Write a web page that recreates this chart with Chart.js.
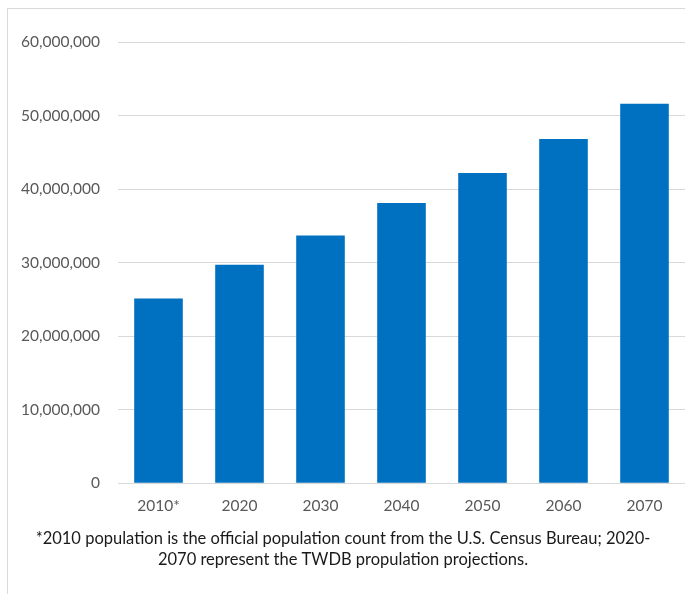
<!DOCTYPE html>
<html>
<head>
<meta charset="utf-8">
<script src="https://cdn.jsdelivr.net/npm/chart.js@4"></script>
<style>
  html, body { margin: 0; padding: 0; background: #fff; }
  #wrap { position: relative; width: 685px; height: 594px; overflow: hidden; }
  #frame { position: absolute; left: 7px; top: 8px; width: 700px; height: 620px;
           border-left: 1px solid #d9d9d9; border-top: 1px solid #d9d9d9; }
  canvas { position: absolute; left: 0; top: 0; }
</style>
</head>
<body>
<div id="wrap">
  <div id="frame"></div>
  <canvas id="popChart" width="685" height="594"></canvas>
</div>
<script>
// categories and values
var years = ['2010*', '2020', '2030', '2040', '2050', '2060', '2070'];
var population = [25100000, 29700000, 33700000, 38100000, 42200000, 46800000, 51600000];
var footnote = [
    '*2010 population is the official population count from the U.S. Census Bureau; 2020-',
    '2070 represent the TWDB propulation projections.'
];

var tickFont = { family: 'Lato, "Open Sans", sans-serif', size: 15.5 };

var ctx = document.getElementById('popChart').getContext('2d');
var config = {
    type: 'bar',
    data: {
        labels: years,
        datasets: [{
            label: 'Population',
            data: population,
            backgroundColor: '#0070c0',
            borderWidth: 0,
            barPercentage: 0.6,
            categoryPercentage: 1.0
        }]
    },
    options: {
        responsive: false,
        animation: false,
        layout: { padding: { left: 0, right: -1, top: 42, bottom: 24 } },
        plugins: {
            legend: { display: false },
            tooltip: { enabled: false },
            title: {
                display: true,
                position: 'bottom',
                text: footnote,
                color: '#1a1a1a',
                font: { family: 'Lato, "Open Sans", sans-serif', size: 16.5, weight: 'normal', lineHeight: 1.28 },
                padding: { top: 6, bottom: 0 }
            }
        },
        scales: {
            x: {
                grid: { display: false },
                border: { display: true, color: '#d9d9d9', width: 1 },
                ticks: { color: '#595959', font: tickFont, padding: 6, maxRotation: 0 }
            },
            y: {
                min: 0,
                max: 60000000,
                afterFit: function(scale) { scale.width = 118; },
                grid: { color: '#d9d9d9', lineWidth: 1, drawTicks: false },
                border: { display: false },
                ticks: {
                    stepSize: 10000000,
                    color: '#595959',
                    font: tickFont,
                    padding: 18,
                    callback: function(v) { return v.toLocaleString('en-US'); }
                }
            }
        }
    }
};

var popChart = new Chart(ctx, config);
</script>
</body>
</html>
